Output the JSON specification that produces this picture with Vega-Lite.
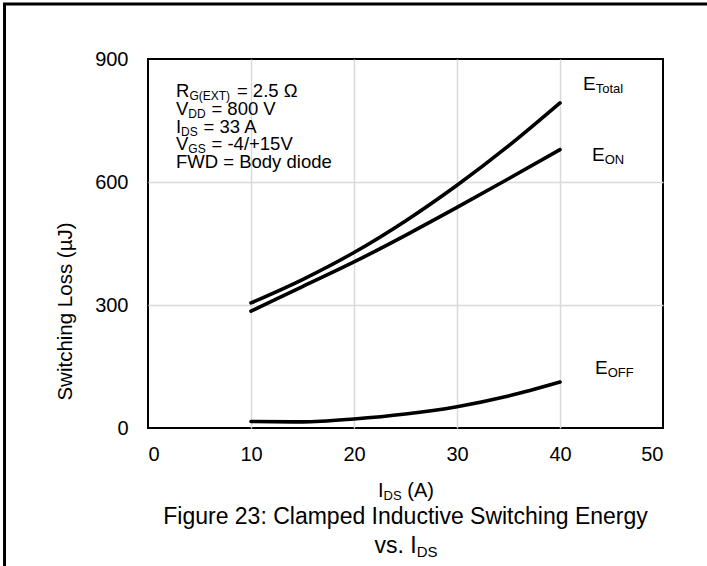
{
  "$schema": "https://vega.github.io/schema/vega-lite/v6.json",
  "width": 515,
  "height": 369,
  "autosize": {"type": "none"},
  "padding": {"left": 148, "top": 59, "right": 44, "bottom": 138},
  "background": "white",
  "config": {
    "font": "Liberation Sans",
    "view": {"stroke": "black", "strokeWidth": 2},
    "axis": {
      "domain": false,
      "ticks": false,
      "grid": true,
      "gridColor": "#d9d9d9",
      "gridWidth": 1.5,
      "labelFont": "Liberation Sans",
      "labelFontSize": 20,
      "labelColor": "black",
      "titleFont": "Liberation Sans",
      "titleColor": "black",
      "titleFontWeight": "normal"
    }
  },
  "datasets": {
    "curves": [
      {"series": "E_Total", "I": 10, "E": 305},
      {"series": "E_Total", "I": 15, "E": 362},
      {"series": "E_Total", "I": 20, "E": 428},
      {"series": "E_Total", "I": 25, "E": 505},
      {"series": "E_Total", "I": 30, "E": 592},
      {"series": "E_Total", "I": 35, "E": 688},
      {"series": "E_Total", "I": 40, "E": 793},
      {"series": "E_ON", "I": 10, "E": 285},
      {"series": "E_ON", "I": 15, "E": 345},
      {"series": "E_ON", "I": 20, "E": 405},
      {"series": "E_ON", "I": 25, "E": 470},
      {"series": "E_ON", "I": 30, "E": 538},
      {"series": "E_ON", "I": 35, "E": 608},
      {"series": "E_ON", "I": 40, "E": 679},
      {"series": "E_OFF", "I": 10, "E": 16},
      {"series": "E_OFF", "I": 15, "E": 15},
      {"series": "E_OFF", "I": 20, "E": 22},
      {"series": "E_OFF", "I": 25, "E": 34},
      {"series": "E_OFF", "I": 30, "E": 52},
      {"series": "E_OFF", "I": 35, "E": 78},
      {"series": "E_OFF", "I": 40, "E": 112}
    ],
    "labels": [
      {"g": "note", "t": "R", "x": 2.718, "y": 822},
      {"g": "note", "t": "= 2.5 Ω", "x": 8.631, "y": 822},
      {"g": "note", "t": "V", "x": 2.718, "y": 778},
      {"g": "note", "t": "= 800 V", "x": 6.155, "y": 778},
      {"g": "note", "t": "I", "x": 2.718, "y": 734},
      {"g": "note", "t": "= 33 A", "x": 5.398, "y": 734},
      {"g": "note", "t": "V", "x": 2.718, "y": 693},
      {"g": "note", "t": "= -4/+15V", "x": 6.165, "y": 693},
      {"g": "note", "t": "FWD = Body diode", "x": 2.718, "y": 649},
      {"g": "noteSub", "t": "G(EXT)", "x": 4.019, "y": 822},
      {"g": "noteSub", "t": "DD", "x": 3.913, "y": 778},
      {"g": "noteSub", "t": "DS", "x": 3.214, "y": 734},
      {"g": "noteSub", "t": "GS", "x": 3.913, "y": 693},
      {"g": "curve", "t": "E", "x": 42.23, "y": 839},
      {"g": "curve", "t": "E", "x": 43.11, "y": 666},
      {"g": "curve", "t": "E", "x": 43.4, "y": 146},
      {"g": "curveSub", "t": "Total", "x": 43.47, "y": 839},
      {"g": "curveSub", "t": "ON", "x": 44.34, "y": 666},
      {"g": "curveSub", "t": "OFF", "x": 44.63, "y": 146},
      {"g": "xt", "t": "I", "x": 22.33, "y": -154},
      {"g": "xt", "t": "(A)", "x": 25.17, "y": -154},
      {"g": "xtSub", "t": "DS", "x": 22.87, "y": -154},
      {"g": "capC", "t": "Figure 23: Clamped Inductive Switching Energy", "x": 25, "y": -216},
      {"g": "cap", "t": "vs.", "x": 21.99, "y": -287},
      {"g": "cap", "t": "I", "x": 25.47, "y": -287},
      {"g": "capSub", "t": "DS", "x": 26.09, "y": -287}
    ]
  },
  "layer": [
    {
      "data": {"name": "curves"},
      "mark": {"type": "line", "color": "black", "strokeWidth": 3.6, "strokeCap": "round", "interpolate": "monotone", "clip": true},
      "encoding": {
        "x": {
          "field": "I", "type": "quantitative",
          "scale": {"domain": [0, 50], "nice": false, "zero": false},
          "axis": {
            "values": [0, 10, 20, 30, 40, 50],
            "title": null,
            "labelPadding": 16,
            "gridOpacity": {"condition": {"test": "datum.value == 0 || datum.value == 50", "value": 0}, "value": 1}
          }
        },
        "y": {
          "field": "E", "type": "quantitative",
          "scale": {"domain": [0, 900], "nice": false, "zero": false},
          "axis": {
            "values": [0, 300, 600, 900],
            "title": "Switching Loss (µJ)",
            "titleFontSize": 20.5,
            "titleX": -83,
            "titleY": 252,
            "titleBaseline": "middle",
            "titleAngle": -90,
            "titleAlign": "center",
            "labelPadding": 20,
            "gridOpacity": {"condition": {"test": "datum.value == 0 || datum.value == 900", "value": 0}, "value": 1}
          }
        },
        "detail": {"field": "series", "type": "nominal"}
      }
    },
    {
      "data": {"name": "labels"},
      "transform": [{"filter": "datum.g == 'note'"}],
      "mark": {"type": "text", "align": "left", "baseline": "middle", "fontSize": 18.5, "color": "black"},
      "encoding": {"x": {"field": "x", "type": "quantitative"}, "y": {"field": "y", "type": "quantitative"}, "text": {"field": "t"}}
    },
    {
      "data": {"name": "labels"},
      "transform": [{"filter": "datum.g == 'noteSub'"}],
      "mark": {"type": "text", "align": "left", "baseline": "middle", "fontSize": 12, "dy": 5, "color": "black"},
      "encoding": {"x": {"field": "x", "type": "quantitative"}, "y": {"field": "y", "type": "quantitative"}, "text": {"field": "t"}}
    },
    {
      "data": {"name": "labels"},
      "transform": [{"filter": "datum.g == 'curve'"}],
      "mark": {"type": "text", "align": "left", "baseline": "middle", "fontSize": 19, "color": "black"},
      "encoding": {"x": {"field": "x", "type": "quantitative"}, "y": {"field": "y", "type": "quantitative"}, "text": {"field": "t"}}
    },
    {
      "data": {"name": "labels"},
      "transform": [{"filter": "datum.g == 'curveSub'"}],
      "mark": {"type": "text", "align": "left", "baseline": "middle", "fontSize": 13, "dy": 5, "color": "black"},
      "encoding": {"x": {"field": "x", "type": "quantitative"}, "y": {"field": "y", "type": "quantitative"}, "text": {"field": "t"}}
    },
    {
      "data": {"name": "labels"},
      "transform": [{"filter": "datum.g == 'xt'"}],
      "mark": {"type": "text", "align": "left", "baseline": "middle", "fontSize": 20, "color": "black"},
      "encoding": {"x": {"field": "x", "type": "quantitative"}, "y": {"field": "y", "type": "quantitative"}, "text": {"field": "t"}}
    },
    {
      "data": {"name": "labels"},
      "transform": [{"filter": "datum.g == 'xtSub'"}],
      "mark": {"type": "text", "align": "left", "baseline": "middle", "fontSize": 13, "dy": 5, "color": "black"},
      "encoding": {"x": {"field": "x", "type": "quantitative"}, "y": {"field": "y", "type": "quantitative"}, "text": {"field": "t"}}
    },
    {
      "data": {"name": "labels"},
      "transform": [{"filter": "datum.g == 'capC'"}],
      "mark": {"type": "text", "align": "center", "baseline": "middle", "fontSize": 23, "color": "black"},
      "encoding": {"x": {"field": "x", "type": "quantitative"}, "y": {"field": "y", "type": "quantitative"}, "text": {"field": "t"}}
    },
    {
      "data": {"name": "labels"},
      "transform": [{"filter": "datum.g == 'cap'"}],
      "mark": {"type": "text", "align": "left", "baseline": "middle", "fontSize": 23, "color": "black"},
      "encoding": {"x": {"field": "x", "type": "quantitative"}, "y": {"field": "y", "type": "quantitative"}, "text": {"field": "t"}}
    },
    {
      "data": {"name": "labels"},
      "transform": [{"filter": "datum.g == 'capSub'"}],
      "mark": {"type": "text", "align": "left", "baseline": "middle", "fontSize": 15, "dy": 6, "color": "black"},
      "encoding": {"x": {"field": "x", "type": "quantitative"}, "y": {"field": "y", "type": "quantitative"}, "text": {"field": "t"}}
    },
    {
      "data": {"values": [{}]},
      "mark": {"type": "rect", "fill": null, "stroke": "black", "strokeWidth": 3, "clip": false},
      "encoding": {
        "x": {"datum": -13.93, "type": "quantitative"},
        "x2": {"datum": 70},
        "y": {"datum": 1034, "type": "quantitative"},
        "y2": {"datum": -700}
      }
    }
  ]
}
